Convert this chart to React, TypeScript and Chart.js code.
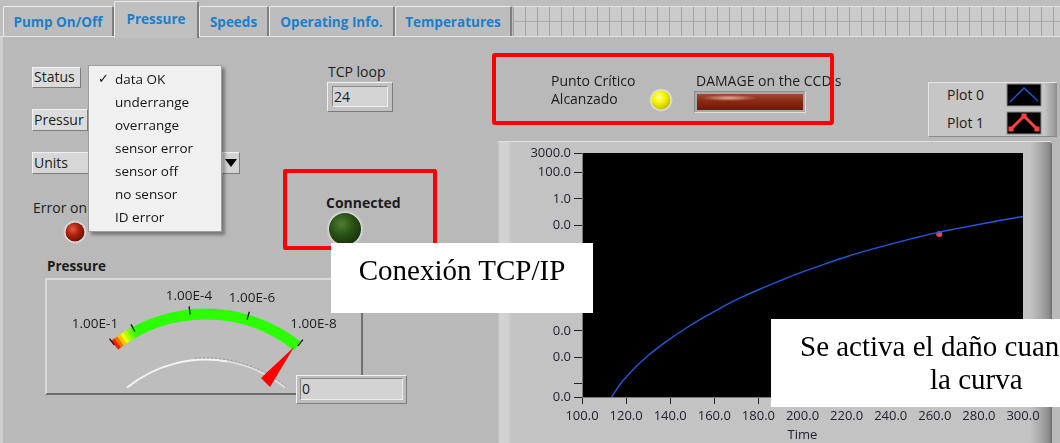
import React, { useEffect, useRef } from "react";
import { Chart, registerables } from "chart.js";

Chart.register(...registerables);

// ---- chart data ----
const timeValues = [113, 118, 123, 130, 138, 148, 156, 164, 172, 180, 190, 200, 210, 220, 230, 240, 250, 260, 270, 280, 290, 300];
const plot0Pressure = [8.0e-16, 1.3e-14, 1.1e-13, 1.4e-12, 1.5e-11, 2.0e-10, 1.26e-9, 7.1e-9, 3.3e-8, 1.32e-7, 6.6e-7, 2.95e-6, 1.17e-5, 4.2e-5, 1.32e-4, 3.8e-4, 1.02e-3, 2.57e-3, 5.6e-3, 1.17e-2, 2.4e-2, 4.7e-2];
const plot1Time = [262];
const plot1Pressure = [2.2e-3];
const yTickValues = [1e-15, 1e-14, 1e-12, 1e-10, 1e-8, 1e-6, 1e-4, 1e-2, 1, 100, 3000];
const yUnlabeledTicks = [1e-14];
const xTickValues = [100, 120, 140, 160, 180, 200, 220, 240, 260, 280, 300];
const legendNames = ["Plot 0", "Plot 1"];

// ---- panel texts ----
const tabNames = ["Pump On/Off", "Pressure", "Speeds", "Operating Info.", "Temperatures"];
const statusItems = ["data OK", "underrange", "overrange", "sensor error", "sensor off", "no sensor", "ID error"];
const gaugeLabels = ["1.00E-1", "1.00E-4", "1.00E-6", "1.00E-8"];

const SANS = "'Open Sans', 'DejaVu Sans', sans-serif";
const SERIF = "'Liberation Serif', 'DejaVu Serif', serif";
const PANEL = "#b9b9b9";

const abs = (l: number, t: number, w: number, h: number, extra: any = {}): any => ({
  position: "absolute",
  left: l,
  top: t,
  width: w,
  height: h,
  boxSizing: "border-box",
  ...extra,
});

const label = (text: string, l: number, cy: number, extra: any = {}) => (
  <div
    style={abs(l, cy - 10, undefined as any, 20, {
      font: `14px ${SANS}`,
      lineHeight: "20px",
      color: "#1c1c1c",
      whiteSpace: "nowrap",
      ...extra,
    })}
  >
    {text}
  </div>
);

const bevelOut = { border: "1px solid", borderColor: "#f2f2f2 #7c7c7c #7c7c7c #f2f2f2" };
const bevelIn = { border: "1px solid", borderColor: "#8a8a8a #eeeeee #eeeeee #8a8a8a" };

function PlotChart() {
  const ref = useRef<HTMLCanvasElement | null>(null);
  useEffect(() => {
    if (!ref.current) return;
    const blackArea = {
      id: "blackArea",
      beforeDraw(chart: any) {
        const { ctx, chartArea } = chart;
        ctx.save();
        ctx.fillStyle = "#000";
        ctx.fillRect(chartArea.left, chartArea.top, chartArea.right - chartArea.left, chartArea.bottom - chartArea.top);
        ctx.restore();
      },
    };
    const tickFont = { family: SANS, size: 13 };
    const chart = new Chart(ref.current, {
      type: "line",
      data: {
        datasets: [
          {
            label: legendNames[0],
            data: timeValues.map((t, i) => ({ x: t, y: plot0Pressure[i] })),
            borderColor: "#2457dc",
            borderWidth: 1.4,
            pointRadius: 0,
            cubicInterpolationMode: "monotone",
          },
          {
            label: legendNames[1],
            data: plot1Time.map((t, i) => ({ x: t, y: plot1Pressure[i] })),
            showLine: false,
            pointRadius: 3,
            pointBackgroundColor: "#ff4040",
            pointBorderWidth: 0,
          },
        ],
      },
      options: {
        animation: false,
        responsive: false,
        events: [],
        layout: { padding: { top: 12, right: 24, left: 0, bottom: 0 } },
        plugins: { legend: { display: false }, tooltip: { enabled: false } },
        scales: {
          x: {
            type: "linear",
            min: 100,
            max: 300,
            afterBuildTicks: (s: any) => {
              s.ticks = xTickValues.map((v) => ({ value: v }));
            },
            afterFit: (s: any) => {
              s.height = 46;
            },
            grid: { drawOnChartArea: false, drawTicks: true, tickLength: 7, color: "#222" },
            border: { display: true, color: "#7a7a7a" },
            ticks: {
              autoSkip: false,
              maxRotation: 0,
              padding: 4,
              color: "#24202e",
              font: tickFont,
              callback: (v: any) => Number(v).toFixed(1),
            },
            title: {
              display: true,
              text: "Time",
              color: "#24202e",
              font: tickFont,
              padding: { top: 0, bottom: 0 },
            },
          },
          y: {
            type: "logarithmic",
            min: 1e-15,
            max: 3000,
            afterBuildTicks: (s: any) => {
              s.ticks = yTickValues.map((v) => ({ value: v }));
            },
            afterFit: (s: any) => {
              s.width = 85;
            },
            grid: { drawOnChartArea: false, drawTicks: true, tickLength: 8, color: "#222" },
            border: { display: true, color: "#7a7a7a" },
            ticks: {
              autoSkip: false,
              padding: 3,
              color: "#24202e",
              font: tickFont,
              callback: (v: any) => (yUnlabeledTicks.includes(Number(v)) ? "" : Number(v).toFixed(1)),
            },
          },
        },
      },
      plugins: [blackArea],
    } as any);
    return () => chart.destroy();
  }, []);
  return <canvas ref={ref} width={550} height={302} style={{ display: "block" }} />;
}

// gauge geometry helpers
const GX = 205.5, GY = 461.6, GR = 147.6;
const pt = (cx: number, cy: number, r: number, deg: number) => {
  const a = (deg * Math.PI) / 180;
  return [cx + r * Math.sin(a), cy - r * Math.cos(a)];
};
const arcPath = (cx: number, cy: number, r: number, a0: number, a1: number) => {
  const [x0, y0] = pt(cx, cy, r, a0);
  const [x1, y1] = pt(cx, cy, r, a1);
  return `M ${x0} ${y0} A ${r} ${r} 0 0 1 ${x1} ${y1}`;
};

export default function App() {
  const tabs = [
    { l: 3, r: 114 },
    { l: 114, r: 199 },
    { l: 199, r: 269 },
    { l: 269, r: 395 },
    { l: 395, r: 512 },
  ];
  const gaugeTicks = [-38, -28.5, -6, 16.3, 38.6];
  const endColors = ["#ff1a00", "#ff6a00", "#ffc000", "#f0ff00", "#b0ff00", "#70ff00"];
  const gaugeLabelPos = [
    [95, 323],
    [189, 295],
    [252, 297],
    [313.5, 323],
  ];
  return (
    <div style={abs(0, 0, 1060, 443, { background: PANEL, overflow: "hidden", fontFamily: SANS })}>
      {/* tab strip */}
      <div style={abs(0, 0, 1060, 37, { background: "#bebebe" })} />
      <div
        style={abs(513, 6, 547, 30, {
          background: "#cbcbcb",
          backgroundImage:
            "repeating-linear-gradient(90deg, #a3a3a3 0 1px, transparent 1px 12px), linear-gradient(180deg, transparent 14px, #a8a8a8 14px 15px, transparent 15px)",
          borderTop: "1px solid #e2e2e2",
        })}
      />
      <div style={abs(0, 36, 1060, 1, { background: "#e4e4e4" })} />
      {tabs.map((t, i) => {
        const active = i === 1;
        return (
          <div
            key={i}
            style={abs(t.l, active ? 1 : 6, t.r - t.l, active ? 37 : 30, {
              background: active ? "#c0c0c0" : "#bdbdbd",
              borderTop: "1px solid #ececec",
              borderLeft: "1px solid #ececec",
              borderRight: "2px solid #7e7e7e",
              borderTopLeftRadius: 2,
              borderTopRightRadius: 2,
              color: "#1a7fca",
              font: `700 13.5px ${SANS}`,
              textAlign: "center",
              lineHeight: active ? "34px" : "30px",
              whiteSpace: "nowrap",
            })}
          >
            {tabNames[i]}
          </div>
        );
      })}
      <div style={abs(0, 37, 3, 406, { background: "#cfcfcf" })} />

      {/* left controls */}
      <div style={abs(32, 67, 49, 21, { background: "#dcdcdc", ...bevelOut })} />
      {label("Status", 34, 77)}
      <div style={abs(32, 109, 56, 22, { background: "#dcdcdc", ...bevelOut })} />
      {label("Pressur", 34, 120)}
      <div style={abs(32, 152, 192, 22, { background: "#d7d7d7", ...bevelOut })} />
      {label("Units", 34, 163)}
      <div style={abs(222, 152, 18, 22, { background: "#d3d3d3", ...bevelOut })} />
      {label("Error on", 33, 208)}

      {/* TCP loop */}
      {label("TCP loop", 328, 72)}
      <div style={abs(327, 82, 66, 30, { background: "#c2c2c2", ...bevelOut })} />
      <div style={abs(332, 86, 56, 21, { background: "#d4d4d4", ...bevelIn })} />
      {label("24", 334, 97)}

      {label("Connected", 326, 203, { fontWeight: 700 })}
      {label("Pressure", 47, 266, { fontWeight: 700, fontSize: 13.5 })}

      {/* gauge frame */}
      <div
        style={abs(45, 278, 318, 117, {
          background: "#bdbdbd",
          border: "2px solid",
          borderColor: "#d9d9d9 #707070 #6a6a6a #d9d9d9",
        })}
      />

      {/* graph frame */}
      <div
        style={abs(497, 141, 555, 310, {
          background:
            "linear-gradient(90deg, #b3b3b3 0px, #d4d4d4 3px, #d1d1d1 11px, #c3c3c3 15px, #c3c3c3 533px, #a4a4a4 545px, #8c8c8c 552px, #6e6e6e 555px)",
          borderTop: "1px solid #e2e2e2",
          borderTopLeftRadius: 3,
          borderTopRightRadius: 3,
        })}
      />
      <div style={abs(497, 141, 550, 302)}>
        <PlotChart />
      </div>

      {/* legend frame */}
      <div
        style={abs(928, 82, 129, 55, {
          background: "linear-gradient(90deg, #c6c6c6 0, #c6c6c6 115px, #a2a2a2 124px, #888 129px)",
          borderTop: "1px solid #e6e6e6",
          borderLeft: "1px solid #e6e6e6",
          borderBottom: "1px solid #8a8a8a",
        })}
      />
      {label(legendNames[0], 947, 95)}
      {label(legendNames[1], 947, 123)}

      {/* damage bar */}
      <div
        style={abs(694, 91, 112, 22, {
          background: "#a9a9a9",
          border: "1px solid",
          borderColor: "#8c8c8c #e0e0e0 #e0e0e0 #8c8c8c",
        })}
      />
      <div
        style={abs(697, 94, 106, 16, {
          background:
            "radial-gradient(ellipse 28px 3px at 32px 4px, rgba(255,210,190,0.75), rgba(255,210,190,0) 100%), linear-gradient(180deg, #a04a34 0%, #8a2a14 45%, #6c1a08 100%)",
        })}
      />

      {/* SVG decorations: gauge, LEDs, legend swatches */}
      <svg width={1060} height={443} style={{ position: "absolute", left: 0, top: 0 }}>
        <defs>
          <radialGradient id="ledRed" cx="0.38" cy="0.35" r="0.7">
            <stop offset="0" stopColor="#e85a40" />
            <stop offset="0.5" stopColor="#a8200c" />
            <stop offset="1" stopColor="#6a1004" />
          </radialGradient>
          <radialGradient id="ledGreen" cx="0.4" cy="0.35" r="0.7">
            <stop offset="0" stopColor="#4f7f36" />
            <stop offset="0.5" stopColor="#2a5214" />
            <stop offset="1" stopColor="#153008" />
          </radialGradient>
          <radialGradient id="ledYellow" cx="0.4" cy="0.35" r="0.7">
            <stop offset="0" stopColor="#ffff9a" />
            <stop offset="0.45" stopColor="#f4f400" />
            <stop offset="1" stopColor="#c0b800" />
          </radialGradient>
          <radialGradient id="halo" cx="0.5" cy="0.5" r="0.5">
            <stop offset="0.8" stopColor="#e6e6e6" />
            <stop offset="1" stopColor="#e6e6e6" stopOpacity="0" />
          </radialGradient>
        </defs>

        {/* gauge arc */}
        <path d={arcPath(GX, GY, GR, -38, 38.6)} stroke="#2cff00" strokeWidth={11} fill="none" />
        {endColors.map((c, i) => (
          <path key={i} d={arcPath(GX, GY, GR, -38 + i * 1.4, -38 + (i + 1) * 1.4 + 0.2)} stroke={c} strokeWidth={11} fill="none" />
        ))}
        {gaugeTicks.map((a, i) => {
          const [x0, y0] = pt(GX, GY, GR + 0.5, a);
          const [x1, y1] = pt(GX, GY, GR + 8.5, a);
          return <line key={i} x1={x0} y1={y0} x2={x1} y2={y1} stroke="#111" strokeWidth={1.3} />;
        })}
        {gaugeLabels.map((t, i) => (
          <text
            key={t}
            x={gaugeLabelPos[i][0]}
            y={gaugeLabelPos[i][1]}
            textAnchor="middle"
            dominantBaseline="central"
            style={{ font: `13.5px ${SANS}`, fill: "#1c1c1c" }}
          >
            {t}
          </text>
        ))}
        <path d={arcPath(206, 485, 125.4, -39, 10)} stroke="#f4f4f4" strokeWidth={2} fill="none" />
        <path d={arcPath(206, 485, 125.4, 10, 39)} stroke="#e2e2e2" strokeWidth={1.6} fill="none" />
        <path d={arcPath(206, 485, 127, -5, 39)} stroke="#8a8a8a" strokeWidth={0.8} strokeDasharray="2 2" fill="none" />
        <polygon points="294,347 261,378 270,387" fill="#ff0000" />

        {/* LEDs */}
        <circle cx={75} cy={232} r={12} fill="url(#halo)" />
        <circle cx={75} cy={232} r={9.5} fill="url(#ledRed)" />
        <circle cx={345} cy={229} r={19} fill="url(#halo)" />
        <circle cx={345} cy={229} r={16} fill="url(#ledGreen)" />
        <circle cx={661} cy={100} r={12} fill="url(#halo)" />
        <circle cx={661} cy={100} r={9.5} fill="url(#ledYellow)" />

        {/* units dropdown arrow */}
        <polygon points="225,159 237,159 231,167" fill="#000" />

        {/* legend swatches */}
        <rect x={1007} y={84} width={34} height={22} fill="#000" stroke="#8a8a8a" strokeWidth={1} />
        <polyline points="1010,102 1024,88 1038,101" fill="none" stroke="#2457dc" strokeWidth={1.4} />
        <rect x={1007} y={112} width={34} height={22} fill="#000" stroke="#8a8a8a" strokeWidth={1} />
        <polyline points="1011,129 1024,116 1037,129" fill="none" stroke="#ff4040" strokeWidth={3} />
        <rect x={1008.5} y={126.5} width={5} height={5} fill="#ff4040" />
        <rect x={1021.5} y={113.5} width={5} height={5} fill="#ff4040" />
        <rect x={1034.5} y={126.5} width={5} height={5} fill="#ff4040" />
      </svg>

      {/* digital display */}
      <div style={abs(296, 375, 111, 29, { background: "#bdbdbd", ...bevelOut })} />
      <div style={abs(300, 378, 103, 22, { background: "#d3d3d3", ...bevelIn })} />
      {label("0", 302, 389)}

      {/* alarm texts */}
      {label("Punto Crítico", 551, 81)}
      {label("Alcanzado", 551, 99)}
      {label("DAMAGE on the CCD's", 696, 81)}

      {/* status dropdown menu */}
      <div
        style={abs(88, 65, 134, 167, {
          background: "#f0f0f0",
          border: "1px solid #9c9c9c",
          boxShadow: "3px 3px 3px rgba(0,0,0,0.35)",
        })}
      >
        {statusItems.map((t, i) => (
          <div
            key={t}
            style={abs(26, 3 + i * 23, 106, 20, {
              font: `13.5px ${SANS}`,
              lineHeight: "20px",
              color: "#141414",
              whiteSpace: "nowrap",
            })}
          >
            {t}
          </div>
        ))}
        <div style={abs(9, 3, 14, 20, { font: `13px 'DejaVu Sans', sans-serif`, lineHeight: "20px", color: "#141414" })}>✓</div>
      </div>

      {/* red highlight boxes */}
      <div style={abs(283, 169, 154, 81, { border: "4px solid #ff0000", borderRadius: 2 })} />
      <div style={abs(492, 53, 342, 72, { border: "4px solid #ff0000", borderRadius: 3 })} />

      {/* white annotation boxes */}
      <div style={abs(331, 243, 262, 70, { background: "#fff" })}>
        <div
          style={abs(0, 11, 262, 32, {
            font: `29px ${SERIF}`,
            lineHeight: "32px",
            textAlign: "center",
            color: "#000",
            whiteSpace: "nowrap",
          })}
        >
          Conexión TCP/IP
        </div>
      </div>
      <div style={abs(771, 319, 289, 88, { background: "#fff", overflow: "hidden" })}>
        <div style={abs(29, 11, 400, 32, { font: `29px ${SERIF}`, lineHeight: "32px", color: "#000", whiteSpace: "nowrap" })}>
          Se activa el daño cuan
        </div>
        <div style={abs(159, 43.5, 200, 32, { font: `29px ${SERIF}`, lineHeight: "32px", color: "#000", whiteSpace: "nowrap" })}>
          la curva
        </div>
      </div>
    </div>
  );
}
